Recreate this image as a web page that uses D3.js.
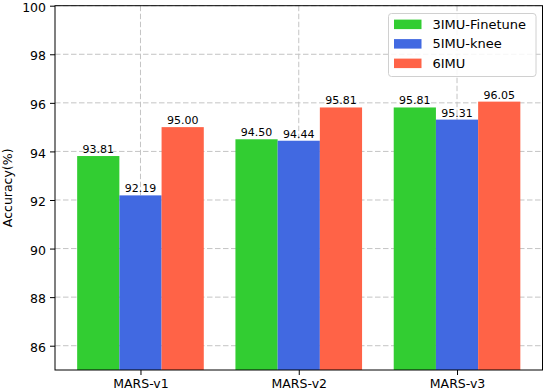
<!DOCTYPE html>
<html lang="en">
<head>
<meta charset="UTF-8">
<title>Accuracy per dataset</title>
<script src="https://d3js.org/d3.v7.min.js"></script>
<style>
    body { margin: 0; background: #fff; }
    svg { display: block; font-family: "DejaVu Sans", sans-serif; }
    .grid line { stroke: #c4c4c4; stroke-width: 1; stroke-dasharray: 5.5,2.5; }
</style>
</head>
<body>
<svg width="544" height="392"></svg>
<script>
// data
const categories = ["MARS-v1", "MARS-v2", "MARS-v3"];
const seriesNames = ["3IMU-Finetune", "5IMU-knee", "6IMU"];
const finetune3 = [93.81, 94.50, 95.81];
const knee5 = [92.19, 94.44, 95.31];
const imu6 = [95.00, 95.81, 96.05];
const yTicks = [86, 88, 90, 92, 94, 96, 98, 100];

const series = [finetune3, knee5, imu6];
const colors = ["#32cd32", "#4169e1", "#ff6347"];

const svg = d3.select("svg");
const plotL = 55, plotR = 542.5, plotT = 5.7, plotB = 370;

// bars sit at index +- width, like a matplotlib grouped bar
const barW = 0.8 / 3;
const x = d3.scaleLinear().domain([-0.54, 2.54]).range([plotL, plotR]);
const y = d3.scaleLinear().domain([85, 100]).range([plotB, plotT]);

// grid first so bars cover it
const grid = svg.append("g").attr("class", "grid");
grid.selectAll(".gy").data(yTicks).enter().append("line")
    .attr("x1", plotL).attr("x2", plotR)
    .attr("y1", d => y(d)).attr("y2", d => y(d));
grid.selectAll(".gx").data(categories).enter().append("line")
    .attr("x1", (d, i) => x(i)).attr("x2", (d, i) => x(i))
    .attr("y1", plotT).attr("y2", plotB);

// bars
series.forEach((vals, s) => {
    const g = svg.append("g");
    const off = (s - 1) * barW;
    g.selectAll("rect").data(vals).enter().append("rect")
        .attr("x", (d, i) => x(i + off - barW / 2))
        .attr("width", x(barW) - x(0))
        .attr("y", d => y(d))
        .attr("height", d => plotB - y(d))
        .attr("fill", colors[s]);
    g.selectAll("text").data(vals).enter().append("text")
        .attr("x", (d, i) => x(i + off))
        .attr("y", d => y(d) - 3)
        .attr("text-anchor", "middle")
        .attr("font-size", "11px")
        .text(d => d.toFixed(2));
});

// axes
const yAxis = d3.axisLeft(y).tickValues(yTicks).tickSize(5).tickPadding(4);
svg.append("g").attr("transform", `translate(${plotL},0)`).call(yAxis)
    .call(g => g.selectAll("text").attr("font-size", "12.5px")
        .attr("font-family", "DejaVu Sans").attr("dy", "0.45em"));

const xAxis = d3.axisBottom(x).tickValues([0, 1, 2]).tickFormat(i => categories[i])
    .tickSize(5).tickPadding(4);
svg.append("g").attr("transform", `translate(0,${plotB})`).call(xAxis)
    .call(g => g.selectAll("text").attr("font-size", "12.5px").attr("font-family", "DejaVu Sans"));

svg.selectAll(".domain").remove();
svg.append("rect")
    .attr("x", plotL).attr("y", plotT)
    .attr("width", plotR - plotL).attr("height", plotB - plotT)
    .attr("fill", "none").attr("stroke", "#000").attr("stroke-width", 1);

svg.append("text")
    .attr("transform", `translate(12,${(plotT + plotB) / 2}) rotate(-90)`)
    .attr("text-anchor", "middle")
    .attr("font-size", "12.5px")
    .text("Accuracy(%)");

// legend
const leg = svg.append("g");
leg.append("rect")
    .attr("x", 388.5).attr("y", 13.5).attr("width", 147.5).attr("height", 63)
    .attr("rx", 3).attr("fill", "#fff").attr("fill-opacity", 0.85)
    .attr("stroke", "#d0d0d0");
seriesNames.forEach((name, i) => {
    const cy = 24.3 + i * 19.5;
    leg.append("rect").attr("x", 394).attr("y", cy - 4.7)
        .attr("width", 27.5).attr("height", 9.5).attr("fill", colors[i]);
    leg.append("text").attr("x", 432.5).attr("y", cy + 4.6)
        .attr("font-size", "13px").text(name);
});
</script>
</body>
</html>
